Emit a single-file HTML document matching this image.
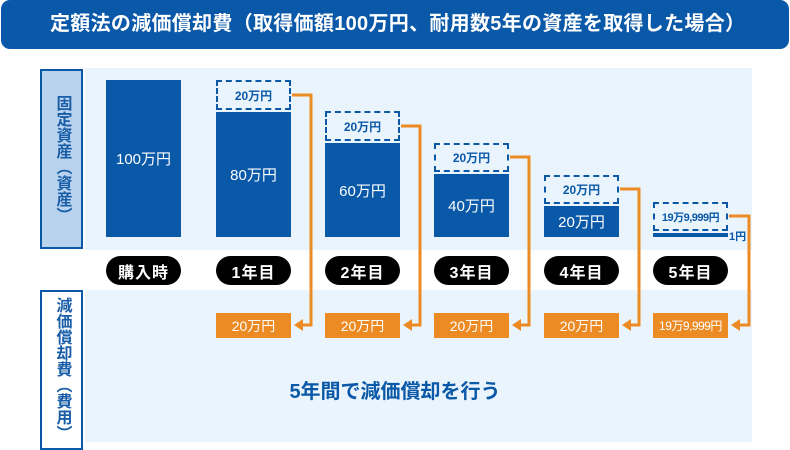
<!DOCTYPE html>
<html><head><meta charset="utf-8"><style>
*{margin:0;padding:0;box-sizing:border-box}
body{width:790px;height:442px;background:#fff;position:relative;overflow:hidden;font-family:"Liberation Sans","Noto Sans CJK JP",sans-serif}
.a{position:absolute}
.title{left:1px;top:0;width:788px;height:49px;background:#0a58a8;border-radius:9px;color:#fff;font-size:20px;font-weight:bold;line-height:49px;padding-left:49px;letter-spacing:0.3px}
.panel{background:#eaf4fc}
.bar{background:#0a58a8;color:#fff;font-size:15px;display:flex;align-items:center;justify-content:center}
.dash{border:2px dashed #0a58a8;color:#0a58a8;font-size:12px;font-weight:bold;display:flex;align-items:center;justify-content:center;background:#eaf4fc}
.pill{background:#000;color:#fff;border-radius:15px;font-size:16px;font-weight:bold;display:flex;align-items:center;justify-content:center;height:29px;top:256px;width:75px;letter-spacing:1px}
.ob{background:#ec8a24;color:#fff;font-size:14px;display:flex;align-items:center;justify-content:center;top:313px;height:25px;width:75px}
.vl{border:2px solid #0a58a8;color:#1a5ea8;font-size:16px;font-weight:bold;writing-mode:vertical-rl;display:flex;align-items:center;justify-content:center;line-height:1;letter-spacing:0}
</style></head><body>
<div class="a title">定額法の減価償却費（取得価額100万円、耐用数5年の資産を取得した場合）</div>
<div class="a panel" style="left:85px;top:68px;width:667px;height:182px"></div>
<div class="a panel" style="left:85px;top:290px;width:667px;height:152px"></div>
<div class="a vl" style="left:40px;top:69px;width:43px;height:180px;background:#b9d3ee">固定資産（資産）</div>
<div class="a vl" style="left:40px;top:290px;width:43px;height:160px;background:#fff;justify-content:flex-start;padding-top:5px">減価償却費（費用）</div>

<div class="a bar" style="left:106px;top:80px;width:75px;height:157px">100万円</div>
<div class="a dash" style="left:216px;top:80px;width:75px;height:30px">20万円</div>
<div class="a bar" style="left:216px;top:112px;width:75px;height:125px">80万円</div>
<div class="a dash" style="left:325px;top:111px;width:75px;height:30px">20万円</div>
<div class="a bar" style="left:325px;top:143px;width:75px;height:94px">60万円</div>
<div class="a dash" style="left:434px;top:143px;width:75px;height:29px">20万円</div>
<div class="a bar" style="left:434px;top:174px;width:75px;height:63px">40万円</div>
<div class="a dash" style="left:544px;top:175px;width:75px;height:29px">20万円</div>
<div class="a bar" style="left:544px;top:206px;width:75px;height:31px">20万円</div>
<div class="a dash" style="left:653px;top:202px;width:75px;height:29px;font-size:11px;letter-spacing:-0.5px">19万9,999円</div>
<div class="a" style="left:653px;top:233px;width:75px;height:4px;background:#0a58a8"></div>
<div class="a" style="left:729px;top:228px;font-size:11px;font-weight:bold;color:#0a58a8">1円</div>

<div class="a pill" style="left:106px">購入時</div>
<div class="a pill" style="left:216px">1年目</div>
<div class="a pill" style="left:325px">2年目</div>
<div class="a pill" style="left:434px">3年目</div>
<div class="a pill" style="left:544px">4年目</div>
<div class="a pill" style="left:653px">5年目</div>

<div class="a ob" style="left:216px">20万円</div>
<div class="a ob" style="left:325px">20万円</div>
<div class="a ob" style="left:434px">20万円</div>
<div class="a ob" style="left:544px">20万円</div>
<div class="a ob" style="left:653px;font-size:12px;letter-spacing:-0.5px">19万9,999円</div>

<svg class="a" style="left:0;top:0" width="790" height="442">
<g fill="none" stroke="#ec8a24" stroke-width="3">
<polyline points="292,95 311,95 311,325 300,325"/>
<polyline points="401,126 420,126 420,325 409,325"/>
<polyline points="510,157 529,157 529,325 518,325"/>
<polyline points="620,189 639,189 639,325 628,325"/>
<polyline points="729,216 749,216 749,325 738,325"/>
</g>
<g fill="#ec8a24">
<polygon points="294,325 303,319 303,331"/>
<polygon points="403,325 412,319 412,331"/>
<polygon points="512,325 521,319 521,331"/>
<polygon points="622,325 631,319 631,331"/>
<polygon points="731,325 740,319 740,331"/>
</g>
</svg>
<div class="a" style="left:270px;top:375px;width:250px;text-align:center;font-size:20px;font-weight:bold;color:#0a58a8">5年間で減価償却を行う</div>
</body></html>
